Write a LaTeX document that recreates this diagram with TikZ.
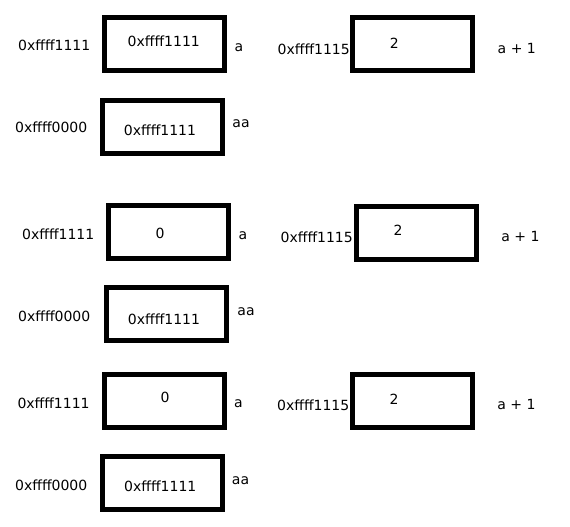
\documentclass[tikz,border=0pt]{standalone}
\usepackage{fontspec}
\setmainfont{DejaVu Sans}
\usepackage{tikz}

\begin{document}
\begin{tikzpicture}[x=1pt,y=-1pt,
			cell node/.style={rectangle,draw,line width=5pt,minimum width=120pt,minimum height=53pt,inner sep=0pt},
			text node/.style={inner sep=0pt,font=\fontsize{14}{16}\selectfont}
			]
			
			\useasboundingbox (0,0) rectangle (570,527);
			
			% first state
			\node[cell node] (a1) at (164.5,44.3) {};
			\node[cell node] (aa1) at (162.2,126.7) {};
			\node[cell node] (b1) at (412,43.8) {};
			\node[text node,anchor=west] (la1) at (18,45) {0xffff1111};
			\node[text node] (va1) at (163.8,41.7) {0xffff1111};
			\node[text node] (na1) at (239,47.5) {a};
			\node[text node,anchor=west] (laa1) at (15,127.7) {0xffff0000};
			\node[text node] (vaa1) at (160,130) {0xffff1111};
			\node[text node] (naa1) at (241,123.5) {aa};
			\node[text node,anchor=east] (lb1) at (350,49.5) {0xffff1115};
			\node[text node] (vb1) at (394.3,43.3) {2};
			\node[text node] (nb1) at (516.8,48) {a + 1};
			
			% second state
			\node[cell node] (a2) at (168.8,231.8) {};
			\node[cell node] (aa2) at (166.7,314) {};
			\node[cell node] (b2) at (416.5,232.5) {};
			\node[text node,anchor=west] (la2) at (22,234) {0xffff1111};
			\node[text node] (va2) at (160,233.3) {0};
			\node[text node] (na2) at (243,236) {a};
			\node[text node,anchor=west] (laa2) at (18,316.7) {0xffff0000};
			\node[text node] (vaa2) at (164,319.3) {0xffff1111};
			\node[text node] (naa2) at (246,311.5) {aa};
			\node[text node,anchor=east] (lb2) at (353,237.7) {0xffff1115};
			\node[text node] (vb2) at (398,230.7) {2};
			\node[text node] (nb2) at (520.5,236.5) {a + 1};
			
			% third state
			\node[cell node] (a3) at (164.3,401) {};
			\node[cell node] (aa3) at (162.2,482.8) {};
			\node[cell node] (b3) at (412,400.5) {};
			\node[text node,anchor=west] (la3) at (17.3,403.3) {0xffff1111};
			\node[text node] (va3) at (165,397.7) {0};
			\node[text node] (na3) at (238.5,404) {a};
			\node[text node,anchor=west] (laa3) at (15,485) {0xffff0000};
			\node[text node] (vaa3) at (160.3,486.7) {0xffff1111};
			\node[text node] (naa3) at (240.5,480.5) {aa};
			\node[text node,anchor=east] (lb3) at (349.5,405) {0xffff1115};
			\node[text node] (vb3) at (394,399) {2};
			\node[text node] (nb3) at (516.5,404) {a + 1};
			\end{tikzpicture}
\end{document}
